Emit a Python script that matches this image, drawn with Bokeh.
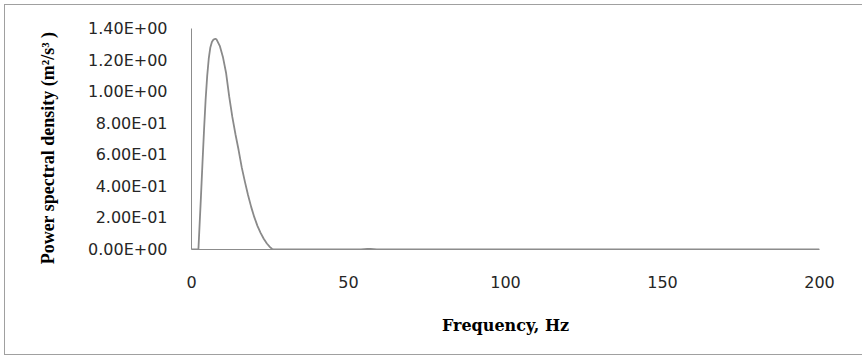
from bokeh.plotting import figure
from bokeh.models import Range1d, FixedTicker
from bokeh.embed import file_html
from bokeh.resources import INLINE

# Power spectral density of the excitation (m^2/s^3) against frequency (Hz)
freq = [0, 1, 2, 2.2, 3, 3.5, 4, 4.5, 5, 5.5, 6, 6.5, 7, 7.6, 8, 9, 10, 11,
        12, 13, 14, 15, 16, 17, 18, 19, 20, 21, 22, 23, 24, 25, 25.7, 26,
        54, 55, 56, 57, 58, 59, 200]
psd = [0, 0, 0, 0, 0.33, 0.55, 0.76, 0.95, 1.10, 1.21, 1.28, 1.315, 1.33,
       1.335, 1.33, 1.29, 1.22, 1.12, 0.97, 0.84, 0.73, 0.63, 0.52, 0.43,
       0.345, 0.27, 0.205, 0.15, 0.105, 0.068, 0.038, 0.015, 0.003, 0,
       0, 0.003, 0.004, 0.004, 0.003, 0, 0]

x_ticks = [0, 50, 100, 150, 200]
y_ticks = [0.0, 0.2, 0.4, 0.6, 0.8, 1.0, 1.2, 1.4]
y_tick_labels = ["0.00E+00", "2.00E-01", "4.00E-01", "6.00E-01",
                 "8.00E-01", "1.00E+00", "1.20E+00", "1.40E+00"]

p = figure(width=858, height=351, output_backend="svg", toolbar_location=None,
           x_range=Range1d(0, 200), y_range=Range1d(0, 1.4),
           min_border_left=186, min_border_right=44,
           min_border_top=23, min_border_bottom=107)

# thin grey frame around the chart area (its right edge runs off the page)
p.styles = {"margin-left": "4px", "margin-top": "4px",
            "border-left": "1px solid #a0a0a0",
            "border-top": "1px solid #a0a0a0",
            "border-bottom": "1px solid #a0a0a0"}

p.line(freq, psd, line_color="#8a8a8a", line_width=1.8)

p.grid.visible = False
p.outline_line_color = None
p.background_fill_color = "white"
p.border_fill_color = "white"

for ax in (p.xaxis[0], p.yaxis[0]):
    ax.axis_line_color = "#8c8c8c"
    ax.axis_line_width = 1
    ax.major_tick_line_color = None
    ax.minor_tick_line_color = None
    ax.major_tick_out = 0
    ax.major_tick_in = 0
    ax.minor_tick_out = 0
    ax.minor_tick_in = 0
    ax.major_label_text_font = "DejaVu Sans"
    ax.major_label_text_font_size = "16px"
    ax.major_label_text_color = "#262626"
    ax.axis_label_text_font_style = "bold"
    ax.axis_label_text_color = "black"

p.xaxis.ticker = FixedTicker(ticks=x_ticks)
p.xaxis.major_label_standoff = 26
p.xaxis.axis_label = "Frequency, Hz"
p.xaxis.axis_label_text_font = "DejaVu Serif"
p.xaxis.axis_label_text_font_size = "16px"
p.xaxis.axis_label_standoff = 25

p.yaxis.ticker = FixedTicker(ticks=y_ticks)
p.yaxis.major_label_overrides = dict(zip(y_ticks, y_tick_labels))
p.yaxis.major_label_standoff = 24
p.yaxis.axis_label = "Power spectral density (m\u00b2/s\u00b3 )\u00a0\u00a0\u00a0\u00a0"
p.yaxis.axis_label_text_font = "Liberation Serif"
p.yaxis.axis_label_text_font_size = "18px"
p.yaxis.axis_label_standoff = 27

open("out.html", "w").write(file_html(p, INLINE))
